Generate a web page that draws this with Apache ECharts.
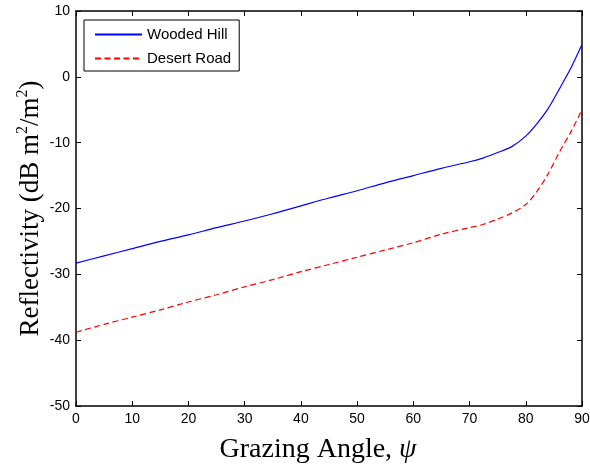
<!DOCTYPE html>
<html>
<head>
<meta charset="utf-8">
<script src="https://cdn.jsdelivr.net/npm/echarts@6/dist/echarts.min.js"></script>
<style>
  html, body { margin: 0; padding: 0; background: #fff; }
  #chart { width: 590px; height: 466px; }
</style>
</head>
<body>
<div id="chart"></div>
<script>
// Grazing angle samples (degrees)
const angles = [0, 5, 10, 15, 20, 25, 30, 35, 40, 45, 50, 55, 60, 65, 70, 72.5, 75, 77.5, 80, 82, 84, 86, 88, 90];
// Reflectivity (dB m^2/m^2)
const woodedHill = [-28.3, -27.2, -26.1, -25.0, -24.0, -22.9, -21.9, -20.8, -19.6, -18.4, -17.3, -16.1, -15.0, -13.9, -12.9, -12.3, -11.5, -10.6, -9.0, -7.1, -4.8, -1.8, 1.3, 4.9];
const desertRoad = [-38.8, -37.6, -36.5, -35.4, -34.2, -33.1, -31.9, -30.8, -29.6, -28.5, -27.4, -26.3, -25.2, -23.9, -22.9, -22.4, -21.6, -20.7, -19.4, -17.4, -14.7, -11.4, -8.4, -5.0];
const seriesNames = ['Wooded Hill', 'Desert Road'];

const xRange = { min: 0, max: 90, interval: 10 };
const yRange = { min: -50, max: 10, interval: 10 };

const pair = (xs, ys) => xs.map((x, i) => [x, ys[i]]);

const serif = 'Liberation Serif, Times New Roman, serif';
const tickFont = { fontFamily: 'Liberation Sans, Arial, sans-serif', fontSize: 14, color: '#000' };
const frameLine = { show: true, onZero: false, lineStyle: { color: '#000', width: 1.5 } };
const innerTick = { show: true, inside: true, length: 5, lineStyle: { color: '#000', width: 1 } };

const chart = echarts.init(document.getElementById('chart'), null, { renderer: 'canvas' });
chart.setOption({
  backgroundColor: '#fff',
  animation: false,
  grid: { left: 76, right: 8, top: 11, bottom: 60, containLabel: false, outerBoundsMode: 'none' },
  legend: {
    orient: 'vertical',
    left: 84, top: 20,
    data: seriesNames.map(name => ({ name, itemStyle: { opacity: 0 } })),
    itemWidth: 47, itemHeight: 15, itemGap: 9,
    padding: [7, 8, 5, 10],
    borderColor: '#000', borderWidth: 1, borderRadius: 0,
    backgroundColor: '#fff',
    textStyle: { fontFamily: 'Liberation Sans, Arial, sans-serif', fontSize: 15, color: '#000' }
  },
  xAxis: [
    {
      type: 'value', position: 'bottom', ...xRange,
      name: 'Grazing Angle, {it|ψ}',
      nameLocation: 'middle', nameGap: 30, nameMoveOverlap: false,
      nameTextStyle: {
        fontFamily: serif, fontSize: 28, color: '#000', padding: [0, 22, 0, 0],
        rich: { it: { fontFamily: serif, fontSize: 28, fontStyle: 'italic', color: '#000' } }
      },
      axisLine: frameLine, axisTick: innerTick,
      axisLabel: { ...tickFont, margin: 6 },
      splitLine: { show: false }
    },
    {
      type: 'value', position: 'top', ...xRange,
      axisLine: frameLine, axisTick: innerTick,
      axisLabel: { show: false }, splitLine: { show: false }
    }
  ],
  yAxis: [
    {
      type: 'value', position: 'left', ...yRange,
      name: 'Reflectivity (dB m{sup|2}/m{sup|2})',
      nameLocation: 'middle', nameGap: 30, nameRotate: 90, nameMoveOverlap: false,
      nameTextStyle: {
        fontFamily: serif, fontSize: 27, color: '#000',
        rich: { sup: { fontFamily: serif, fontSize: 16, color: '#000', padding: [0, 0, 15, 0] } }
      },
      axisLine: frameLine, axisTick: innerTick,
      axisLabel: { ...tickFont, margin: 6 },
      splitLine: { show: false }
    },
    {
      type: 'value', position: 'right', ...yRange,
      axisLine: frameLine, axisTick: innerTick,
      axisLabel: { show: false }, splitLine: { show: false }
    }
  ],
  series: [
    {
      name: seriesNames[0], type: 'line', xAxisIndex: 0, yAxisIndex: 0,
      data: pair(angles, woodedHill), symbol: 'none', smooth: 0.3,
      color: '#0000ff',
      lineStyle: { color: '#0000ff', width: 1.2 }
    },
    {
      name: seriesNames[1], type: 'line', xAxisIndex: 0, yAxisIndex: 0,
      data: pair(angles, desertRoad), symbol: 'none', smooth: 0.3,
      color: '#ff0000',
      lineStyle: { color: '#ff0000', width: 1.2, type: [6, 3.5] }
    }
  ]
});
</script>
</body>
</html>
